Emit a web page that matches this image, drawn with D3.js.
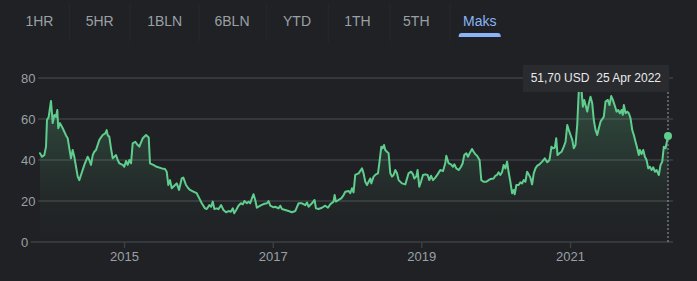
<!DOCTYPE html>
<html>
<head>
<meta charset="utf-8">
<script src="https://cdn.jsdelivr.net/npm/d3@7"></script>
<style>
  html, body { margin: 0; padding: 0; background: #202124; }
  svg { display: block; }
  text { font-family: Arial, "Liberation Sans", sans-serif; }
</style>
</head>
<body>
<svg id="chart" width="697" height="281"></svg>
<script>
// ---- data ----
const rangeTabs = ["1HR", "5HR", "1BLN", "6BLN", "YTD", "1TH", "5TH", "Maks"];
const activeTab = "Maks";
const yTicks = [0, 20, 40, 60, 80];
const xTickYears = [2015, 2017, 2019, 2021];

// decimal years
const timeYears = [
  2013.862, 2013.889, 2013.920, 2013.943, 2013.956, 2013.979, 2014.010, 2014.033, 2014.055, 2014.077,
  2014.095, 2014.108, 2014.131, 2014.168, 2014.212, 2014.235, 2014.257, 2014.279, 2014.302, 2014.324,
  2014.347, 2014.370, 2014.391, 2014.414, 2014.459, 2014.504, 2014.526, 2014.549, 2014.572, 2014.593,
  2014.616, 2014.661, 2014.706, 2014.741, 2014.760, 2014.774, 2014.795, 2014.818, 2014.841, 2014.863,
  2014.886, 2014.908, 2014.930, 2014.976, 2014.997, 2015.020, 2015.043, 2015.065, 2015.088, 2015.110,
  2015.145, 2015.178, 2015.199, 2015.245, 2015.290, 2015.326, 2015.343, 2015.388, 2015.434, 2015.501,
  2015.545, 2015.568, 2015.590, 2015.613, 2015.636, 2015.680, 2015.703, 2015.734, 2015.770, 2015.792,
  2015.828, 2015.859, 2015.882, 2015.927, 2015.972, 2016.007, 2016.040, 2016.084, 2016.107, 2016.142,
  2016.165, 2016.188, 2016.209, 2016.242, 2016.263, 2016.300, 2016.331, 2016.367, 2016.398, 2016.430,
  2016.457, 2016.475, 2016.502, 2016.533, 2016.565, 2016.592, 2016.613, 2016.646, 2016.667, 2016.690,
  2016.713, 2016.735, 2016.758, 2016.780, 2016.825, 2016.869, 2016.915, 2016.937, 2016.960, 2017.004,
  2017.027, 2017.071, 2017.094, 2017.117, 2017.162, 2017.206, 2017.252, 2017.296, 2017.341, 2017.387,
  2017.431, 2017.454, 2017.475, 2017.521, 2017.556, 2017.575, 2017.610, 2017.656, 2017.700, 2017.737,
  2017.768, 2017.812, 2017.826, 2017.844, 2017.879, 2017.916, 2017.947, 2017.970, 2018.014, 2018.037,
  2018.060, 2018.081, 2018.104, 2018.149, 2018.195, 2018.216, 2018.239, 2018.262, 2018.284, 2018.306,
  2018.320, 2018.351, 2018.383, 2018.410, 2018.428, 2018.455, 2018.472, 2018.491, 2018.508, 2018.531,
  2018.553, 2018.576, 2018.599, 2018.620, 2018.643, 2018.666, 2018.688, 2018.733, 2018.778, 2018.822,
  2018.855, 2018.882, 2018.899, 2018.926, 2018.943, 2018.966, 2018.989, 2019.016, 2019.047, 2019.078,
  2019.101, 2019.124, 2019.151, 2019.182, 2019.213, 2019.249, 2019.286, 2019.316, 2019.330, 2019.361,
  2019.393, 2019.420, 2019.438, 2019.465, 2019.496, 2019.528, 2019.550, 2019.572, 2019.599, 2019.622,
  2019.644, 2019.676, 2019.698, 2019.721, 2019.744, 2019.778, 2019.801, 2019.832, 2019.869, 2019.900,
  2019.923, 2019.967, 2019.990, 2020.013, 2020.034, 2020.057, 2020.080, 2020.102, 2020.125, 2020.148,
  2020.169, 2020.192, 2020.215, 2020.236, 2020.250, 2020.273, 2020.304, 2020.327, 2020.350, 2020.371,
  2020.394, 2020.417, 2020.438, 2020.461, 2020.484, 2020.506, 2020.529, 2020.552, 2020.573, 2020.619,
  2020.654, 2020.687, 2020.717, 2020.744, 2020.762, 2020.789, 2020.808, 2020.825, 2020.852, 2020.879,
  2020.910, 2020.933, 2020.956, 2020.977, 2021.000, 2021.023, 2021.044, 2021.067, 2021.090, 2021.112,
  2021.135, 2021.148, 2021.166, 2021.185, 2021.202, 2021.225, 2021.247, 2021.269, 2021.292, 2021.313,
  2021.337, 2021.359, 2021.381, 2021.404, 2021.448, 2021.471, 2021.502, 2021.525, 2021.548, 2021.570,
  2021.593, 2021.620, 2021.642, 2021.664, 2021.687, 2021.704, 2021.718, 2021.741, 2021.764, 2021.785,
  2021.808, 2021.831, 2021.852, 2021.875, 2021.898, 2021.919, 2021.933, 2021.956, 2021.979, 2022.001,
  2022.024, 2022.046, 2022.068, 2022.091, 2022.114, 2022.135, 2022.158, 2022.189, 2022.212, 2022.235,
  2022.256, 2022.279, 2022.302, 2022.312
];
const prices = [
  43.3, 41.6, 42.4, 46.5, 59.5, 61.0, 68.8, 58.0, 62.0, 61.0,
  64.4, 55.5, 58.0, 55.5, 52.0, 50.6, 45.7, 40.8, 44.9, 41.6,
  36.7, 31.9, 30.2, 32.7, 37.6, 41.6, 40.0, 37.6, 42.4, 44.0,
  44.9, 49.8, 52.2, 53.0, 54.6, 52.0, 51.4, 45.7, 40.8, 41.6,
  42.4, 40.0, 38.4, 37.6, 36.7, 39.5, 37.6, 40.0, 38.4, 48.1,
  48.9, 47.3, 46.5, 50.6, 52.2, 51.0, 38.4, 37.6, 36.7, 35.9,
  35.6, 34.3, 27.8, 30.2, 26.2, 27.8, 28.6, 25.4, 31.0, 31.4,
  27.8, 26.2, 25.4, 24.6, 23.8, 21.3, 18.9, 16.4, 16.1, 18.0,
  17.2, 19.7, 16.1, 16.4, 16.0, 18.0, 15.6, 14.5, 15.1, 14.8,
  16.4, 14.0, 15.6, 17.7, 18.9, 18.4, 20.0, 18.9, 19.7, 18.9,
  21.3, 23.3, 20.5, 16.7, 17.7, 18.5, 18.9, 20.0, 17.7, 16.9,
  17.2, 16.4, 17.7, 16.1, 15.6, 15.1, 14.5, 15.1, 18.9, 18.9,
  18.0, 19.3, 17.2, 18.9, 20.5, 16.4, 16.1, 16.7, 17.7, 16.7,
  18.4, 19.7, 22.9, 19.7, 20.5, 21.3, 22.9, 24.5, 24.9, 23.8,
  26.2, 24.2, 32.7, 33.5, 35.9, 33.5, 29.4, 27.8, 29.4, 31.0,
  28.6, 31.9, 33.0, 33.5, 38.4, 46.5, 45.7, 47.3, 44.9, 44.0,
  43.3, 33.5, 31.9, 32.7, 35.1, 33.5, 30.2, 28.6, 28.1, 33.5,
  34.3, 33.0, 31.0, 31.9, 35.1, 27.0, 29.4, 32.7, 33.0, 32.7,
  30.2, 32.3, 30.2, 31.4, 33.0, 35.1, 34.6, 38.4, 42.1, 38.4,
  37.9, 36.7, 37.9, 35.9, 35.1, 36.7, 38.4, 42.4, 43.3, 41.6,
  43.3, 45.4, 44.0, 42.8, 42.1, 40.0, 30.2, 29.4, 29.4, 30.2,
  30.7, 31.0, 32.3, 32.7, 34.0, 32.7, 34.0, 37.6, 35.9, 39.2,
  34.0, 29.4, 23.8, 25.4, 23.3, 27.8, 27.8, 29.1, 28.6, 30.2,
  29.4, 34.3, 33.0, 31.4, 28.1, 33.5, 35.9, 37.2, 37.6, 39.2,
  40.8, 38.9, 40.0, 46.5, 45.7, 46.0, 50.6, 42.4, 43.3, 44.0,
  46.5, 48.9, 57.1, 54.6, 52.2, 49.8, 45.7, 47.3, 57.1, 74.5,
  75.0, 74.0, 66.0, 69.3, 66.8, 63.6, 67.7, 70.9, 67.7, 59.5,
  54.6, 52.2, 55.5, 58.7, 61.1, 68.5, 69.3, 66.8, 71.2, 69.3,
  66.8, 63.6, 64.4, 62.8, 64.4, 62.0, 66.8, 62.8, 63.6, 62.8,
  60.3, 54.6, 52.2, 48.9, 45.7, 42.4, 44.9, 42.9, 44.9, 41.6,
  40.0, 35.9, 36.7, 35.1, 36.4, 34.3, 35.1, 32.7, 37.6, 39.2,
  46.5, 45.7, 49.8, 51.7
];
const tooltipPrice = "51,70 USD";
const tooltipDate = "25 Apr 2022";

// ---- helpers ----
function yearToDate(t) {
  const y = Math.floor(t);
  const start = new Date(y, 0, 1), end = new Date(y + 1, 0, 1);
  return new Date(start.getTime() + (t - y) * (end - start));
}
const data = timeYears.map((t, i) => ({ date: yearToDate(t), value: prices[i] }));
const last = data[data.length - 1];
last.date = new Date(2022, 3, 25);

const svg = d3.select("#chart");
const W = 697, H = 281;
const bg = "#202124", grid = "#3c4043", textCol = "#9aa0a6";
const lineCol = "#5fcd8d", accent = "#8ab4f8";

svg.append("rect").attr("width", W).attr("height", H).attr("fill", bg);

// ---- range tabs ----
const tabScale = d3.scalePoint().domain(rangeTabs).range([39.5, 479.7]);
const tabs = svg.append("g");
const sepX = [69.3, 130, 199, 266.7, 328.3, 390, 450];
tabs.selectAll("line.sep").data(sepX).join("line")
  .attr("x1", d => d).attr("x2", d => d).attr("y1", 4).attr("y2", 42)
  .attr("stroke", "#27282b").attr("stroke-width", 1);
const tabCenters = [39.4, 99.7, 164.7, 232, 297, 357.5, 416.3, 479.7];
tabs.selectAll("text").data(rangeTabs).join("text")
  .attr("x", (d, i) => tabCenters[i]).attr("y", 25.7)
  .attr("text-anchor", "middle").attr("font-size", 14)
  .attr("fill", d => d === activeTab ? accent : textCol)
  .text(d => d);
{
  const ax = tabCenters[rangeTabs.indexOf(activeTab)];
  const x0 = ax - 21, x1 = ax + 21, y0 = 33, y1 = 37, r = 3;
  tabs.append("path")
    .attr("d", `M${x0},${y1} L${x0},${y0 + r} Q${x0},${y0} ${x0 + r},${y0} L${x1 - r},${y0} Q${x1},${y0} ${x1},${y0 + r} L${x1},${y1} Z`)
    .attr("fill", accent);
}

// ---- scales ----
const x = d3.scaleTime().domain([data[0].date, last.date]).range([40, 668]);
const y = d3.scaleLinear().domain([0, 80]).range([242, 78]);

// ---- y grid + labels ----
const gY = svg.append("g");
yTicks.forEach(v => {
  const t = gY.append("text")
    .attr("x", 21).attr("y", y(v) + 4.7)
    .attr("font-size", 13).attr("fill", textCol)
    .text(v);
  const w = t.node().getComputedTextLength();
  gY.append("line")
    .attr("x1", 21 + w + 2.5).attr("x2", 673)
    .attr("y1", y(v)).attr("y2", y(v))
    .attr("stroke", grid).attr("stroke-width", 1.4);
});

// ---- x ticks ----
const gX = svg.append("g");
xTickYears.forEach(yr => {
  const xx = x(new Date(yr, 0, 1));
  gX.append("line").attr("x1", xx).attr("x2", xx).attr("y1", 242).attr("y2", 248)
    .attr("stroke", grid).attr("stroke-width", 1.4);
  gX.append("text").attr("x", xx).attr("y", 261)
    .attr("text-anchor", "middle").attr("font-size", 13).attr("fill", textCol)
    .text(yr);
});

// ---- area + line ----
const defs = svg.append("defs");
const grad = defs.append("linearGradient").attr("id", "areaGrad")
  .attr("gradientUnits", "userSpaceOnUse")
  .attr("x1", 0).attr("x2", 0).attr("y1", y(75)).attr("y2", y(0));
grad.append("stop").attr("offset", 0).attr("stop-color", lineCol).attr("stop-opacity", 0.26);
grad.append("stop").attr("offset", 0.75).attr("stop-color", lineCol).attr("stop-opacity", 0.03);
grad.append("stop").attr("offset", 1).attr("stop-color", lineCol).attr("stop-opacity", 0);

svg.append("path").datum(data)
  .attr("d", d3.area().x(d => x(d.date)).y0(y(0)).y1(d => y(d.value)))
  .attr("fill", "url(#areaGrad)");

svg.append("path").datum(data)
  .attr("d", d3.line().x(d => x(d.date)).y(d => y(d.value)))
  .attr("fill", "none").attr("stroke", lineCol).attr("stroke-width", 2)
  .attr("stroke-linejoin", "round").attr("stroke-linecap", "round");

// ---- hover marker ----
const lx = x(last.date), ly = y(last.value);
svg.append("line").attr("x1", lx).attr("x2", lx).attr("y1", 92).attr("y2", 242)
  .attr("stroke", textCol).attr("stroke-width", 1).attr("stroke-dasharray", "2,2");
svg.append("circle").attr("cx", lx).attr("cy", ly).attr("r", 4).attr("fill", lineCol);

// ---- tooltip ----
const tip = svg.append("g");
tip.append("rect").attr("x", 523).attr("y", 65).attr("width", 146).attr("height", 27)
  .attr("fill", "#2a2b2e");
tip.append("text").attr("x", 530.7).attr("y", 81.7)
  .attr("font-size", 12).attr("fill", "#e8eaed")
  .text(tooltipPrice);
tip.append("text").attr("x", 661).attr("y", 81.7).attr("text-anchor", "end")
  .attr("font-size", 12).attr("fill", "#e8eaed")
  .text(tooltipDate);
</script>
</body>
</html>
